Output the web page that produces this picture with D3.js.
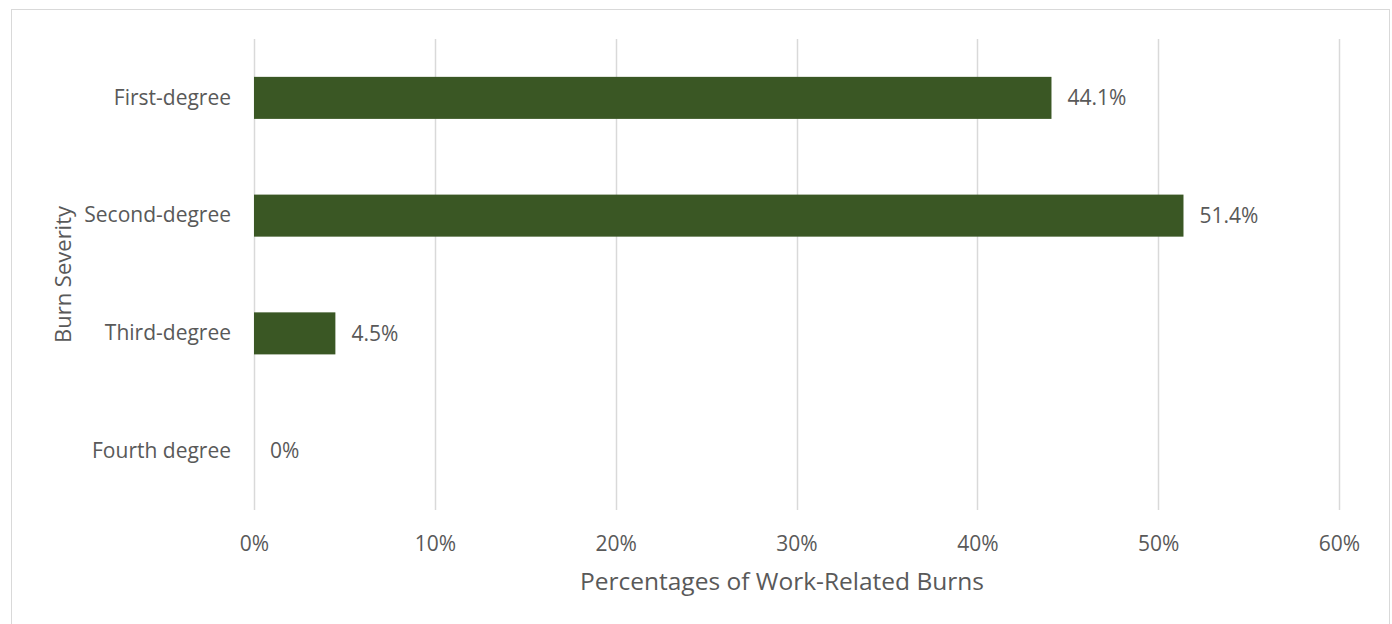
<!DOCTYPE html>
<html>
<head>
<meta charset="utf-8">
<script src="https://cdn.jsdelivr.net/npm/d3@7"></script>
<style>
  html, body { margin: 0; padding: 0; background: #fff; }
  svg { display: block; }
  text { font-family: "Open Sans", "Noto Sans", sans-serif; fill: #595959; }
</style>
</head>
<body>
<svg id="chart" width="1392" height="624"></svg>
<script>
// Share of work-related burns by severity
const categories = ["First-degree", "Second-degree", "Third-degree", "Fourth degree"];
const values = [44.1, 51.4, 4.5, 0];
const valueLabels = ["44.1%", "51.4%", "4.5%", "0%"];
const xTicks = [0, 10, 20, 30, 40, 50, 60];

const svg = d3.select("#chart");

// Chart frame
svg.append("rect")
  .attr("x", 11.5).attr("y", 9.5)
  .attr("width", 1378).attr("height", 630)
  .attr("fill", "#fff").attr("stroke", "#d9d9d9").attr("stroke-width", 1);

const plot = { left: 254, right: 1339, top: 39, bottom: 510 };

const x = d3.scaleLinear().domain([0, 60]).range([plot.left, plot.right]);
const y = d3.scaleBand().domain(categories).range([plot.top, plot.bottom]).paddingInner(0.643).paddingOuter(0.3215);

// Vertical gridlines
svg.append("g").selectAll("line").data(xTicks).join("line")
  .attr("x1", d => Math.round(x(d)) + 0.5).attr("x2", d => Math.round(x(d)) + 0.5)
  .attr("y1", plot.top).attr("y2", plot.bottom)
  .attr("stroke", "#d9d9d9").attr("stroke-width", 1.5);

// Tick labels on the value axis
const xAxis = d3.axisBottom(x).tickValues(xTicks).tickFormat(d => d + "%").tickSize(0).tickPadding(0);
const gx = svg.append("g").attr("transform", `translate(0,${plot.bottom + 34})`).call(xAxis);
gx.select(".domain").remove();
gx.selectAll("text").attr("font-size", 21).attr("dy", "0.35em").attr("fill", "#595959")
  .style("font-family", "\"Open Sans\", sans-serif");

// Category labels
const yAxis = d3.axisLeft(y).tickSize(0).tickPadding(0);
const gy = svg.append("g").attr("transform", `translate(${plot.left - 23},0)`).call(yAxis);
gy.select(".domain").remove();
gy.selectAll("text").attr("font-size", 21).attr("fill", "#595959")
  .style("font-family", "\"Open Sans\", sans-serif");

// Bars
svg.append("g").selectAll("rect").data(values).join("rect")
  .attr("x", x(0))
  .attr("y", (d, i) => y(categories[i]))
  .attr("width", d => x(d) - x(0))
  .attr("height", y.bandwidth())
  .attr("fill", "#3a5724");

// Value labels
svg.append("g").selectAll("text").data(values).join("text")
  .attr("x", d => x(d) + 16)
  .attr("y", (d, i) => y(categories[i]) + y.bandwidth() / 2)
  .attr("dy", "0.35em")
  .attr("font-size", 21)
  .text((d, i) => valueLabels[i]);

// Axis titles
svg.append("text")
  .attr("x", 782).attr("y", 581).attr("dy", "0.35em")
  .attr("text-anchor", "middle").attr("font-size", 24.5)
  .text("Percentages of Work-Related Burns");

svg.append("text")
  .attr("transform", `translate(63,${(plot.top + plot.bottom) / 2}) rotate(-90)`)
  .attr("dy", "0.35em")
  .attr("text-anchor", "middle").attr("font-size", 22)
  .text("Burn Severity");
</script>
</body>
</html>
